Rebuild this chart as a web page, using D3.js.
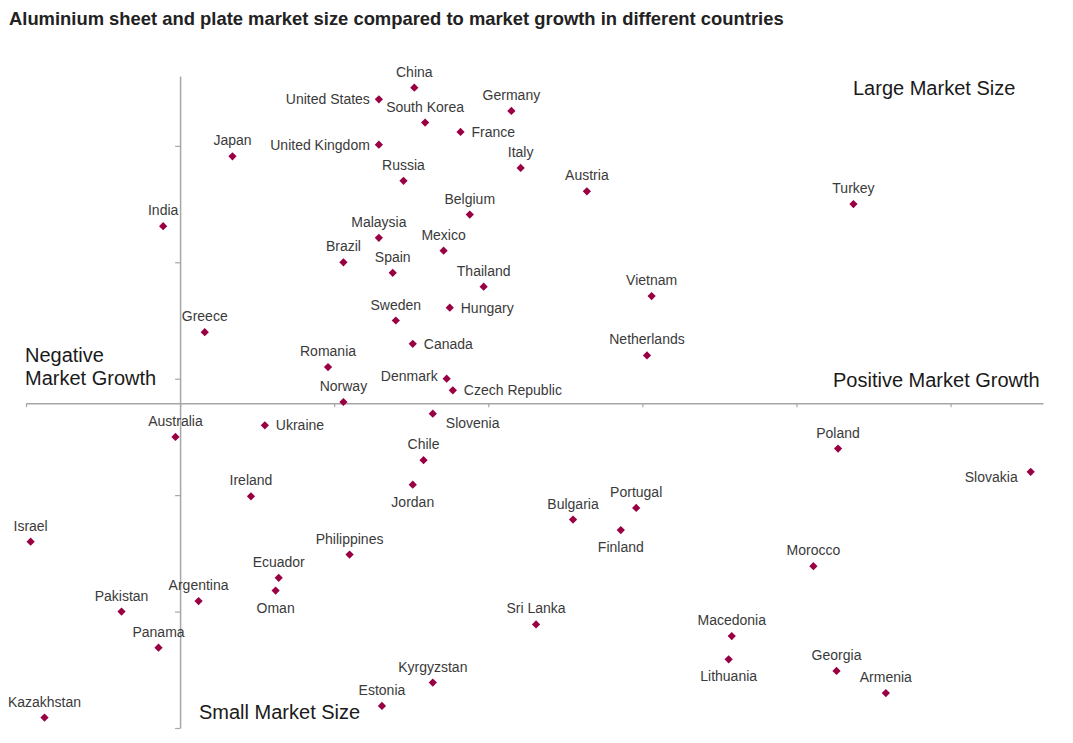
<!DOCTYPE html>
<html>
<head>
<meta charset="utf-8">
<script src="https://cdn.jsdelivr.net/npm/d3@7"></script>
<style>
  body { margin: 0; background: #fff; }
  text { font-family: "Liberation Sans", Arial, sans-serif; }
</style>
</head>
<body>
<svg width="1073" height="743"></svg>
<script>
// market growth index (x) and market size index (y)
const countries = ["China", "United States", "South Korea", "Germany", "France", "Japan",
  "United Kingdom", "Italy", "Russia", "Austria", "Turkey", "India", "Belgium", "Malaysia",
  "Mexico", "Brazil", "Spain", "Thailand", "Vietnam", "Sweden", "Hungary", "Greece",
  "Netherlands", "Canada", "Romania", "Denmark", "Czech Republic", "Norway", "Australia",
  "Ukraine", "Slovenia", "Chile", "Jordan", "Ireland", "Poland", "Slovakia", "Bulgaria",
  "Portugal", "Finland", "Israel", "Philippines", "Morocco", "Ecuador", "Oman", "Argentina",
  "Pakistan", "Sri Lanka", "Macedonia", "Panama", "Lithuania", "Georgia", "Armenia",
  "Kyrgyzstan", "Estonia", "Kazakhstan"];

const growth = [1.52, 1.29, 1.59, 2.15, 1.82, 0.34,
  1.29, 2.21, 1.45, 2.64, 4.37, -0.11, 1.88, 1.29,
  1.71, 1.06, 1.38, 1.97, 3.06, 1.40, 1.75, 0.16,
  3.03, 1.51, 0.96, 1.73, 1.77, 1.06, -0.03,
  0.55, 1.64, 1.58, 1.51, 0.46, 4.27, 5.52, 2.55,
  2.96, 2.86, -0.97, 1.10, 4.11, 0.64, 0.62, 0.12,
  -0.38, 2.31, 3.58, -0.14, 3.56, 4.26, 4.58,
  1.64, 1.31, -0.88];

const size = [5.50, 5.40, 5.20, 5.30, 5.12, 4.91,
  5.01, 4.81, 4.70, 4.61, 4.50, 4.31, 4.41, 4.21,
  4.10, 4.00, 3.91, 3.79, 3.71, 3.50, 3.61, 3.40,
  3.20, 3.30, 3.10, 3.00, 2.90, 2.80, 2.50,
  2.60, 2.70, 2.30, 2.09, 1.99, 2.40, 2.20, 1.79,
  1.89, 1.70, 1.60, 1.49, 1.39, 1.29, 1.18, 1.09,
  1.00, 0.89, 0.79, 0.69, 0.59, 0.49, 0.30,
  0.39, 0.19, 0.09];

const growthTicks = [-1, 0, 1, 2, 3, 4, 5];
const sizeTicks = [0, 1, 2, 3, 4, 5];
const sizeCross = 2.79;   // where the growth axis crosses the size axis

// where each label sits relative to its marker (default: above)
const labelSide = {
  "United States": "l", "United Kingdom": "l", "Denmark": "lt", "Slovakia": "lb",
  "France": "r", "Hungary": "r", "Canada": "r", "Czech Republic": "r", "Ukraine": "r",
  "Slovenia": "br", "Jordan": "b", "Finland": "b", "Oman": "b", "Lithuania": "b"
};

const data = countries.map((c, i) => ({ name: c, g: growth[i], s: size[i] }));

const svg = d3.select("svg");

const x = d3.scaleLinear().domain([-1, 5.6]).range([26, 1043]);
const y = d3.scaleLinear().domain([0, 5.6]).range([728, 76]);

svg.append("text")
  .attr("x", 9).attr("y", 25)
  .attr("font-size", "18.4px").attr("font-weight", "bold")
  .attr("fill", "#222")
  .text("Aluminium sheet and plate market size compared to market growth in different countries");

// axes
const xAxis = svg.append("g")
  .attr("transform", "translate(0," + y(sizeCross) + ")")
  .call(d3.axisBottom(x).tickValues(growthTicks).tickSize(4).tickSizeOuter(0).tickFormat(""));

const yAxis = svg.append("g")
  .attr("transform", "translate(" + x(0) + ",0)")
  .call(d3.axisLeft(y).tickValues(sizeTicks).tickSize(5).tickSizeOuter(0).tickFormat(""));

[xAxis, yAxis].forEach(a => {
  a.select(".domain").attr("stroke", "#a6a6a6").attr("stroke-width", 1.5);
  a.selectAll(".tick line").attr("stroke", "#a6a6a6").attr("stroke-width", 1.2);
});

// markers
svg.selectAll(".pt")
  .data(data)
  .enter().append("path")
  .attr("class", "pt")
  .attr("d", d3.symbol(d3.symbolSquare, 34))
  .attr("transform", d => "translate(" + x(d.g) + "," + y(d.s) + ") rotate(45)")
  .attr("fill", "#990044");

// labels
svg.selectAll(".lbl")
  .data(data)
  .enter().append("text")
  .attr("class", "lbl")
  .attr("font-size", "14px")
  .attr("fill", "#3a3a3a")
  .attr("text-anchor", d => {
    const s = labelSide[d.name] || "t";
    return s[0] === "l" ? "end" : (s === "r" || s === "br") ? "start" : "middle";
  })
  .attr("x", d => {
    const s = labelSide[d.name] || "t";
    const px = x(d.g);
    if (s === "l" || s === "lt") return px - 9;
    if (s === "lb") return px - 13;
    if (s === "r") return px + 11;
    if (s === "br") return px + 13;
    return px;
  })
  .attr("y", d => {
    const s = labelSide[d.name] || "t";
    const py = y(d.s);
    if (s === "l" || s === "r") return py + 5;
    if (s === "lt") return py + 2;
    if (s === "lb") return py + 10;
    if (s === "br") return py + 14;
    if (s === "b") return py + 22;
    return py - 11;
  })
  .text(d => d.name);

// quadrant captions
const cap = svg.append("g").attr("font-size", "20px").attr("fill", "#1a1a1a");
cap.append("text").attr("x", 853).attr("y", 95).text("Large Market Size");
cap.append("text").attr("x", 25).attr("y", 362).text("Negative");
cap.append("text").attr("x", 25).attr("y", 385).text("Market Growth");
cap.append("text").attr("x", 833).attr("y", 387).text("Positive Market Growth");
cap.append("text").attr("x", 199).attr("y", 719).text("Small Market Size");
</script>
</body>
</html>
